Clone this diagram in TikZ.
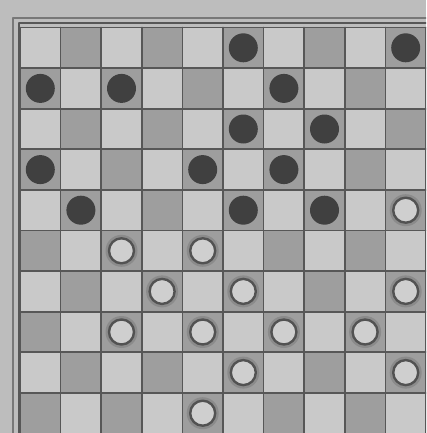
\documentclass[tikz,border=0pt]{standalone}
\usetikzlibrary{calc}
\definecolor{paper}{gray}{0.74}
\definecolor{lightsq}{gray}{0.79}
\definecolor{darksq}{gray}{0.62}
\definecolor{gridline}{gray}{0.34}
\definecolor{blackman}{gray}{0.25}
\definecolor{whiteman}{gray}{0.81}
\definecolor{whitering}{gray}{0.32}

\begin{document}
\begin{tikzpicture}[x=1pt,y=-1pt,line cap=round,line join=round]
\path[use as bounding box] (0,0) rectangle (426,433);
\clip (0,0) rectangle (426,433);
\fill[paper] (0,0) rectangle (426,433);

\def\sq{40.6}
\coordinate (O) at (20,27.5);

% frame
\draw[line width=1.8pt,gridline!80] (13,18) -- (13,440);
\draw[line width=1.8pt,gridline!80] (13,18) -- (440,18);
\draw[line width=1.4pt,gridline] (19,23) -- (19,440);
\draw[line width=1.4pt,gridline] (19,23) -- (440,23);

% squares
\fill[lightsq] (O) rectangle ++(10*\sq,10*\sq);
\foreach \r in {1,...,10}{
  \foreach \c in {1,...,10}{
    \pgfmathtruncatemacro{\odd}{mod(\r+\c,2)}
    \ifnum\odd=1
      \fill[darksq] ($(O)+({(\c-1)*\sq},{(\r-1)*\sq})$) rectangle ++(\sq,\sq);
    \fi
  }
}

% grid
\foreach \i in {0,...,10}{
  \draw[line width=1.7pt,gridline] ($(O)+({\i*\sq},0)$) -- ++(0,10*\sq);
  \draw[line width=1.7pt,gridline] ($(O)+(0,{\i*\sq})$) -- ++(10*\sq,0);
}

% black men
\foreach \r/\c in {1/6,1/10,2/1,2/3,2/7,3/6,3/8,4/1,4/5,4/7,5/2,5/6,5/8}{
  \fill[blackman] ($(O)+({(\c-0.5)*\sq},{(\r-0.5)*\sq})$) circle (14.5);
}

% white men
\foreach \r/\c in {5/10,6/3,6/5,7/4,7/6,7/10,8/3,8/5,8/7,8/9,9/6,9/10,10/5}{
  \fill[darksq!88!black] ($(O)+({(\c-0.5)*\sq},{(\r-0.5)*\sq})$) circle (16);
  \filldraw[fill=whiteman,draw=whitering,line width=2.4pt]
    ($(O)+({(\c-0.5)*\sq},{(\r-0.5)*\sq})$) circle (12.5);
}
\end{tikzpicture}
\end{document}
